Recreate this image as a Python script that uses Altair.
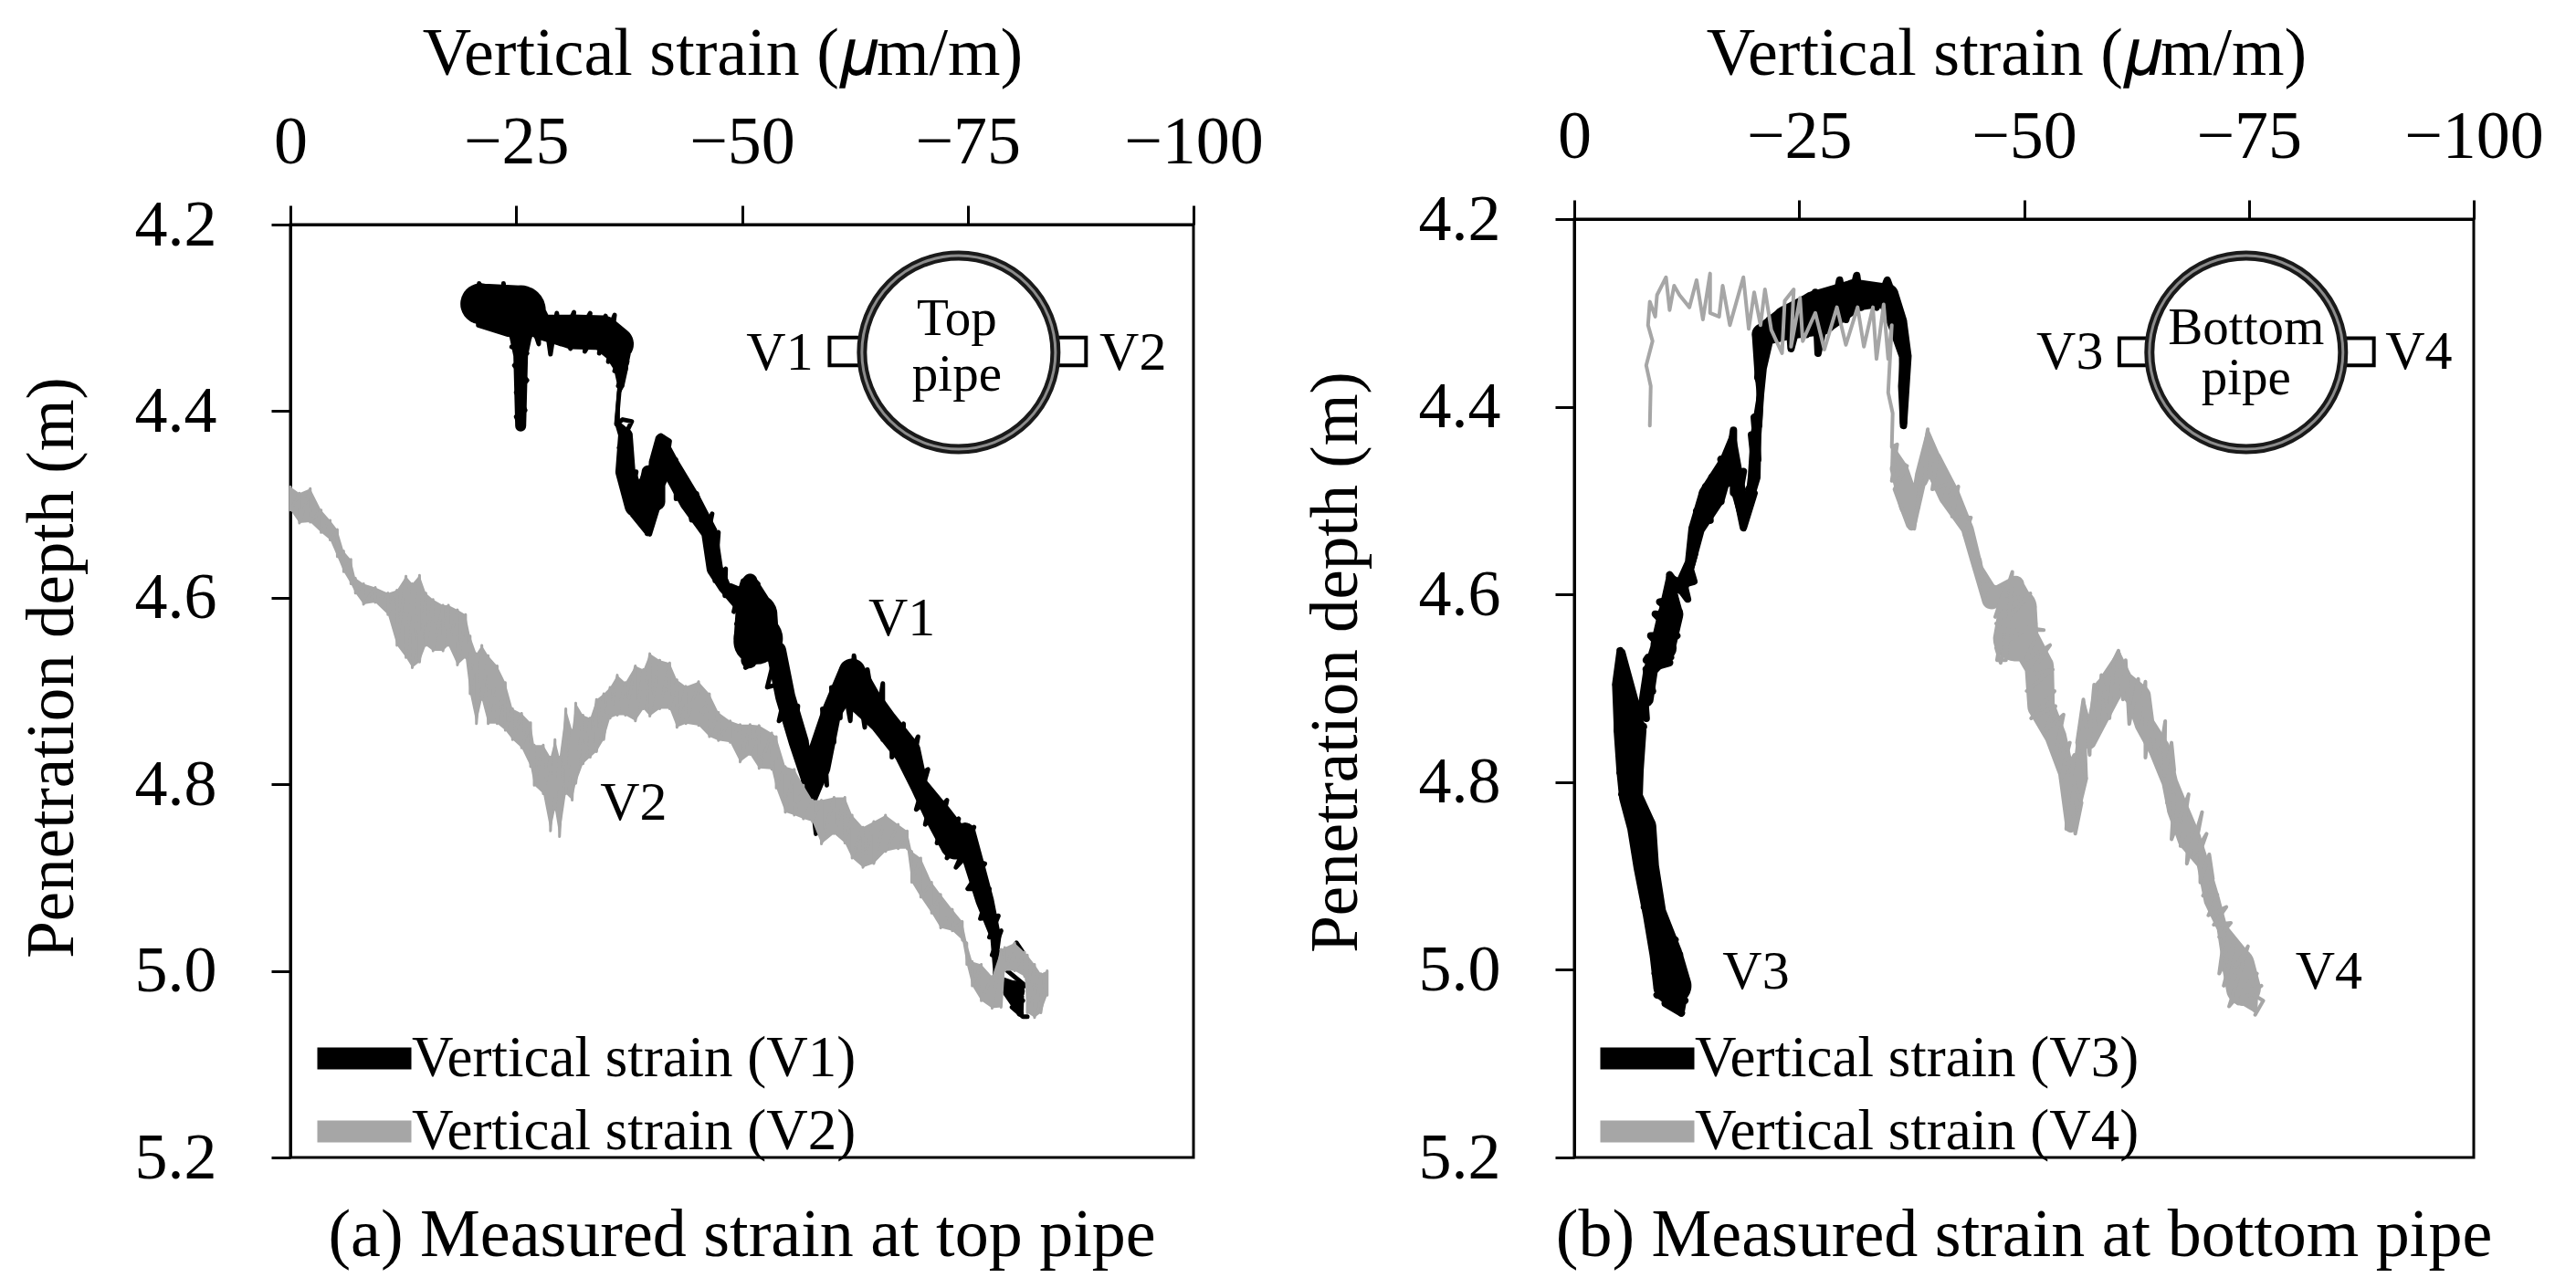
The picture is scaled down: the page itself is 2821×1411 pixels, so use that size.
import altair as alt
import pandas as pd

FONT = "Liberation Serif"
BLACK = "#000000"
GRAY = "#A6A6A6"

XTICKS = [0, -25, -50, -75, -100]
YTICKS = [4.2, 4.4, 4.6, 4.8, 5.0, 5.2]
X_TITLE = "Vertical strain (\U0001D707m/m)"
Y_TITLE = "Penetration depth (m)"

# ---- V1: strain magnitude and depth
V1_strain = [25.5,25.0,26.0,25.0,26.2,24.8,26.2,24.5,26.3,24.1,20.8,20.9,22.1,21.8,23.5,23.6,24.1,25.1,26.5,26.3,27.5,27.5,28.2,28.8,29.5,29.9,31.4,31.0,33.2,32.6,34.9,34.2,35.9,35.2,37.3,35.9,37.3,36.3,36.9,36.4,36.1,36.8,37.8,36.4,37.6,36.4,38.3,37.6,39.3,38.3,39.8,41.0,39.6,40.8,40.3,41.0,42.0,41.3,42.7,42.7,43.7,44.4,45.0,46.0,46.7,46.0,47.4,47.0,48.2,48.1,49.6,49.1,50.1,50.9,51.8,49.4,53.4,49.7,54.1,50.4,51.8,53.4,54.5,53.8,52.8,55.1,54.1,56.2,55.8,56.7,56.8,57.8,58.2,57.8,58.5,59.4,58.9,60.2,59.9,60.9,61.0,62.0,62.4,63.6,63.9,64.9,65.6,65.6,66.6,66.6,67.9,67.9,69.5,68.6,70.6,69.3,71.0,70.3,72.7,71.6,74.0,72.7,75.7,73.7,75.9,74.7,76.9,75.0,77.4,76.4,78.4,77.4,78.7,77.7,78.4,78.0,80.4,81.1,79.4,81.4,79.1,81.1,79.9,81.1,81.6]
V1_depth = [4.417,4.406,4.399,4.380,4.367,4.351,4.338,4.331,4.321,4.318,4.308,4.263,4.308,4.266,4.311,4.263,4.318,4.279,4.321,4.292,4.328,4.298,4.297,4.339,4.295,4.328,4.294,4.333,4.295,4.336,4.298,4.338,4.297,4.347,4.318,4.357,4.347,4.373,4.357,4.380,4.414,4.409,4.411,4.439,4.435,4.468,4.465,4.501,4.465,4.514,4.532,4.494,4.471,4.471,4.445,4.426,4.432,4.478,4.452,4.494,4.471,4.517,4.488,4.530,4.510,4.543,4.530,4.582,4.569,4.598,4.595,4.615,4.582,4.577,4.585,4.628,4.615,4.647,4.644,4.675,4.667,4.664,4.660,4.657,4.696,4.690,4.732,4.716,4.762,4.765,4.801,4.820,4.853,4.820,4.755,4.801,4.719,4.755,4.696,4.729,4.677,4.732,4.662,4.739,4.677,4.735,4.692,4.752,4.729,4.771,4.735,4.781,4.749,4.797,4.784,4.827,4.814,4.843,4.817,4.863,4.837,4.879,4.846,4.889,4.866,4.879,4.885,4.912,4.912,4.944,4.941,4.964,4.957,4.983,4.980,5.005,4.970,4.980,5.000,5.016,5.022,5.032,5.039,5.049,5.049]
# spine of the V1 band: centre strain, centre depth, band thickness
V1_spine_strain = [25.5,25.5,25.5,21.1,25.5,27.8,31.2,34.6,36.1,36.6,36.6,36.3,36.2,37.1,37.1,38.3,39.6,39.5,39.6,40.5,40.6,41.0,42.0,44.3,46.4,47.0,48.1,50.4,50.9,51.6,51.6,51.8,50.8,51.8,53.8,54.8,56.3,57.8,58.3,59.9,62.2,63.6,65.6,68.3,69.6,71.7,73.7,74.7,75.7,76.9,78.1,78.0,80.1,80.8]
V1_spine_depth = [4.416,4.341,4.308,4.285,4.292,4.310,4.315,4.316,4.328,4.354,4.372,4.382,4.413,4.426,4.465,4.501,4.530,4.497,4.465,4.497,4.455,4.430,4.458,4.497,4.530,4.569,4.589,4.605,4.582,4.618,4.647,4.644,4.667,4.644,4.657,4.706,4.755,4.817,4.781,4.723,4.680,4.710,4.732,4.765,4.801,4.833,4.863,4.853,4.885,4.925,4.964,5.005,5.022,5.045]
V1_spine_width = [12,16,30,45,55,28,38,38,38,16,8,3,6,16,22,26,8,26,14,20,18,12,22,24,18,18,14,28,16,46,50,54,18,54,22,22,22,10,30,22,30,36,30,30,20,30,36,24,22,20,12,3,24,8]

# ---- V2: strain magnitude with the upper and lower edge of the noisy band
V2_strain = [0,1.0,2.2,3.4,4.4,5.2,5.9,6.7,7.2,8.1,9.4,10.8,11.8,12.8,13.5,14.3,15.0,15.8,16.9,17.5,18.5,19.4,19.9,20.6,21.2,21.9,22.9,23.8,24.6,25.6,26.6,27.0,28.0,28.8,29.3,29.8,30.5,31.2,31.6,32.4,33.2,33.9,34.7,35.4,36.2,37.1,38.2,39.1,39.8,40.9,42.0,42.8,43.8,45.2,46.4,47.4,48.7,49.8,50.9,51.9,53.3,53.8,54.8,55.8,56.8,57.8,58.8,60.2,61.4,62.2,63.4,64.6,65.9,67.3,68.3,68.8,69.8,71.0,72.0,73.3,74.4,74.9,75.5,76.5,77.7,78.7,79.1,80.2,81.3,81.6,82.4,83.1,83.8]
V2_upper = [4.481,4.488,4.483,4.506,4.517,4.527,4.550,4.559,4.579,4.585,4.589,4.595,4.592,4.577,4.585,4.576,4.595,4.602,4.608,4.608,4.613,4.618,4.641,4.660,4.651,4.662,4.673,4.691,4.719,4.724,4.734,4.758,4.758,4.771,4.752,4.771,4.719,4.742,4.713,4.726,4.729,4.709,4.703,4.696,4.683,4.691,4.673,4.677,4.660,4.667,4.670,4.688,4.695,4.690,4.703,4.723,4.732,4.736,4.736,4.737,4.745,4.749,4.781,4.784,4.801,4.817,4.817,4.814,4.814,4.833,4.846,4.840,4.833,4.843,4.850,4.872,4.879,4.905,4.918,4.934,4.947,4.970,4.990,4.993,5.006,4.977,4.975,4.970,4.980,4.983,4.993,5.003,5.000]
V2_lower = [4.506,4.520,4.519,4.530,4.538,4.556,4.572,4.585,4.595,4.607,4.605,4.618,4.651,4.664,4.675,4.669,4.651,4.657,4.657,4.651,4.672,4.664,4.703,4.735,4.709,4.735,4.735,4.742,4.752,4.761,4.781,4.801,4.810,4.850,4.827,4.856,4.810,4.817,4.799,4.778,4.771,4.765,4.752,4.729,4.726,4.726,4.732,4.719,4.727,4.719,4.719,4.739,4.735,4.737,4.749,4.753,4.755,4.776,4.768,4.783,4.784,4.804,4.830,4.833,4.837,4.840,4.864,4.853,4.863,4.879,4.889,4.885,4.872,4.869,4.869,4.905,4.921,4.938,4.954,4.957,4.967,4.993,5.016,5.032,5.040,5.039,5.000,5.000,5.006,5.045,5.050,5.045,5.026]

# ---- V3
V3_strain = [36.6,36.4,36.6,36.1,34.9,35.9,34.8,33.6,33.2,31.9,31.4,30.2,29.5,28.5,28.5,27.1,26.8,25.8,25.4,24.1,23.8,22.7,21.7,21.2,20.9,20.4,20.7,20.5,20.0,20.4,19.7,20.2,19.4,20.0,18.8,18.2,18.8,17.7,17.7,17.2,16.3,17.0,15.3,16.3,14.6,15.1,13.6,13.9,13.1,13.4,12.9,13.3,12.2,12.6,10.6,11.2,9.5,11.6,9.0,11.4,8.5,10.7,8.0,8.2,10.6,8.0,8.7,7.8,8.0,7.0,5.3,5.8,4.8,4.8,4.8,7.7,5.1,7.2,5.1,7.2,5.3,7.0,6.2,8.2,6.5,8.5,7.2,8.9,7.7,9.2,7.8,9.7,8.5,10.9,11.2,8.9,11.7,9.0,12.4,9.2,12.3,10.1,11.9]
V3_depth = [4.417,4.378,4.346,4.313,4.287,4.294,4.265,4.294,4.271,4.294,4.260,4.307,4.265,4.313,4.278,4.343,4.278,4.323,4.291,4.338,4.297,4.326,4.307,4.349,4.313,4.369,4.375,4.420,4.411,4.456,4.430,4.475,4.488,4.492,4.529,4.501,4.469,4.492,4.425,4.459,4.456,4.482,4.475,4.501,4.485,4.521,4.511,4.534,4.534,4.556,4.573,4.586,4.589,4.605,4.579,4.605,4.608,4.624,4.621,4.644,4.644,4.667,4.670,4.667,4.673,4.680,4.703,4.706,4.732,4.722,4.662,4.706,4.690,4.722,4.745,4.741,4.767,4.767,4.790,4.787,4.813,4.813,4.832,4.839,4.855,4.858,4.881,4.887,4.907,4.913,4.933,4.939,4.959,4.972,4.968,4.978,4.984,5.004,5.010,5.027,5.033,5.036,5.046]
V3_spine_strain = [36.6,36.8,35.9,34.8,31.2,27.1,23.8,21.0,20.7,20.7,20.2,20.0,18.8,18.3,17.7,17.0,15.3,13.6,12.9,11.9,10.6,10.7,9.9,9.9,8.5,8.0,7.0,5.1,5.1,6.2,6.2,6.3,7.5,8.0,8.9,10.2,10.9,11.9]
V3_spine_depth = [4.420,4.346,4.310,4.281,4.281,4.300,4.310,4.323,4.359,4.388,4.430,4.475,4.530,4.492,4.424,4.459,4.495,4.530,4.566,4.592,4.582,4.621,4.654,4.657,4.680,4.712,4.725,4.660,4.696,4.745,4.787,4.816,4.848,4.890,4.939,4.984,5.017,5.046]
V3_spine_width = [8,14,22,25,35,50,38,25,14,8,12,14,4,16,3,18,30,18,12,16,8,28,28,29,16,16,6,8,18,36,30,26,32,28,26,36,42,8]

# ---- V4
V4_strain = [8.4,8.5,8.0,8.7,8.2,8.4,9.0,9.2,10.2,10.6,11.1,11.7,12.8,13.6,14.3,15.1,15.1,16.1,16.5,17.3,18.8,19.4,20.0,20.7,21.2,21.9,23.1,23.4,24.4,24.1,25.1,25.4,26.8,27.8,29.2,30.2,31.5,32.2,33.2,33.6,34.4,34.9,35.3,34.9,35.4,35.3,35.9,35.3,37.0,35.6,37.1,37.8,38.6,39.3,39.0,40.3,39.8,41.7,41.0,42.7,42.0,44.1,43.4,44.4,45.1,45.6,45.8,47.8,46.8,48.1,47.0,48.0,48.7,47.6,50.7,47.1,52.2,46.9,51.3,46.9,47.4,48.1,51.2,50.2,52.9,50.5,53.2,50.3,53.4,50.8,53.5,52.4,54.4,53.5,55.1,54.1,55.6,54.9,54.7,55.4,55.7,56.4,55.4,56.9,55.9,56.6,57.3,57.4,57.8,58.3,58.6,59.5,60.0,60.5,61.0,61.3,61.7,62.7,62.7,63.5,63.5,64.0,64.9,65.7,65.6,66.4,66.7,65.9,66.7,66.4,68.3,67.4,68.4,68.1,69.8,68.9,70.3,69.6,69.6,70.6,71.0,69.9,71.5,70.5,72.5,71.1,73.0,71.7,72.3,71.7,73.5,72.2,74.9,72.8,75.9,73.8,76.4,74.9,76.6,75.7]
V4_depth = [4.420,4.378,4.356,4.330,4.313,4.288,4.304,4.281,4.262,4.297,4.271,4.281,4.294,4.265,4.307,4.258,4.300,4.304,4.271,4.313,4.262,4.317,4.278,4.313,4.275,4.318,4.343,4.287,4.275,4.336,4.284,4.330,4.300,4.339,4.294,4.334,4.294,4.336,4.294,4.349,4.291,4.349,4.313,4.385,4.407,4.443,4.440,4.479,4.463,4.488,4.527,4.530,4.469,4.424,4.482,4.456,4.488,4.482,4.501,4.485,4.517,4.518,4.537,4.556,4.563,4.605,4.589,4.595,4.624,4.605,4.670,4.670,4.576,4.609,4.599,4.638,4.638,4.631,4.631,4.657,4.673,4.647,4.647,4.670,4.654,4.686,4.680,4.703,4.703,4.732,4.719,4.745,4.728,4.771,4.758,4.796,4.771,4.822,4.850,4.822,4.855,4.822,4.796,4.796,4.758,4.712,4.771,4.738,4.696,4.738,4.686,4.732,4.670,4.660,4.712,4.670,4.738,4.690,4.738,4.693,4.774,4.732,4.784,4.735,4.793,4.758,4.787,4.822,4.813,4.861,4.813,4.868,4.835,4.887,4.832,4.877,4.855,4.874,4.907,4.877,4.903,4.921,4.920,4.942,4.933,4.952,4.950,4.965,4.962,5.004,4.968,5.017,4.975,5.039,5.004,5.036,5.017,5.023,5.033,5.048]
V4_spine_strain = [35.4,36.1,37.3,37.5,38.6,39.3,39.7,41.7,43.7,44.9,46.4,49.1,49.3,49.1,47.5,49.8,51.7,51.9,53.5,54.7,55.2,56.2,56.6,57.3,59.3,60.5,61.0,62.7,63.4,65.0,66.2,67.1,68.4,69.9,70.9,72.0,73.8,74.4,75.7]
V4_spine_depth = [4.443,4.466,4.505,4.527,4.472,4.425,4.456,4.495,4.530,4.573,4.605,4.589,4.614,4.647,4.660,4.644,4.677,4.719,4.751,4.790,4.848,4.796,4.715,4.758,4.703,4.664,4.693,4.709,4.738,4.764,4.800,4.829,4.861,4.887,4.926,4.955,4.994,5.020,5.043]
V4_spine_width = [4,20,24,10,14,3,22,24,14,12,22,18,42,50,12,34,32,30,24,18,12,18,4,14,32,6,24,28,22,24,18,24,26,14,18,12,36,38,6]

# ---- annotations: text, strain magnitude, depth of the baseline
A_LABELS = [("V1", 54.2, 4.356), ("V2", 93.3, 4.356), ("V1", 67.7, 4.640), ("V2", 38.0, 4.838)]
B_LABELS = [("V3", 55.1, 4.360), ("V4", 93.9, 4.360), ("V3", 20.2, 5.020), ("V4", 83.9, 5.020)]
A_PIPE = [("Top", 73.8, 4.318), ("pipe", 73.8, 4.378)]
B_PIPE = [("Bottom", 74.7, 4.333), ("pipe", 74.7, 4.387)]
A_GAUGES = [(59.7, 63.1, 4.321, 4.351), (84.7, 88.1, 4.321, 4.351)]
B_GAUGES = [(60.6, 64.1, 4.327, 4.356), (85.7, 88.9, 4.327, 4.356)]
A_CENTRE = (74.0, 4.337)
B_CENTRE = (74.7, 4.342)


def trace(strain, depth, name):
    return pd.DataFrame({"i": range(len(strain)), "strain": [-v for v in strain], "depth": depth, "series": name})


def spine(strain, depth, width):
    return pd.DataFrame({"i": range(len(strain)), "strain": [-v for v in strain], "depth": depth, "w": width})


def zigzag(strain, upper, lower, name):
    s, d = [], []
    for a, u, l in zip(strain, upper, lower):
        s += [a, a]
        d += [u, l]
    return trace(s, d, name)


def panel(black, gray, names, labels, pipe, gauges, centre, caption, w, h, bw, gw, legend_x, xtitle_x, xtitle_y,
          black_spine, gray_spine=None, band=None):
    x = alt.X("strain:Q", scale=alt.Scale(domain=[0, -100], nice=False, zero=False),
              axis=alt.Axis(orient="top", values=XTICKS, grid=False, title=X_TITLE, titleFont=FONT, titleFontSize=74,
                            titleFontWeight="normal", titleColor=BLACK, titleX=xtitle_x, titleY=xtitle_y,
                            labelFont=FONT, labelFontSize=74, labelColor=BLACK, labelPadding=31, labelFlush=False,
                            tickSize=21, tickWidth=3, tickColor=BLACK, domainColor=BLACK, domainWidth=3, labelBaseline="bottom"))
    y = alt.Y("depth:Q", scale=alt.Scale(domain=[4.2, 5.2], nice=False, zero=False, reverse=True),
              axis=alt.Axis(values=YTICKS, format=".1f", grid=False, title=Y_TITLE, titleFont=FONT, titleFontSize=73,
                            titleFontWeight="normal", titleColor=BLACK, titleX=-224, titleY=485, titleAlign="center",
                            labelFont=FONT, labelFontSize=72, labelColor=BLACK, labelPadding=60, labelFlush=False,
                            tickSize=21, tickWidth=3, tickColor=BLACK, domainColor=BLACK, domainWidth=3))
    color = alt.Color("series:N",
                      scale=alt.Scale(domain=names, range=[BLACK, GRAY]),
                      legend=alt.Legend(title=None, orient="none", legendX=legend_x, legendY=1113,
                                        symbolType="M0,0H103", symbolSize=4, symbolStrokeWidth=24, symbolOpacity=1,
                                        labelFont=FONT, labelFontSize=63, labelColor=BLACK, labelOffset=72,
                                        labelLimit=0, rowPadding=-19, padding=0))
    size = alt.Size("w:Q", scale=None, legend=None)
    layers = [
        alt.Chart(black_spine).mark_trail(color=BLACK).encode(x=x, y=y, size=size, order="i:Q"),
        alt.Chart(black).mark_line(strokeWidth=bw, strokeJoin="round", strokeCap="round", clip=False)
        .encode(x=x, y=y, color=color, order="i:Q"),
    ]
    if band is not None:
        layers.append(alt.Chart(band).mark_area(color=GRAY, opacity=1).encode(x=x, y=y, y2="lower:Q"))
    if gray_spine is not None:
        layers.append(alt.Chart(gray_spine).mark_trail(color=GRAY).encode(x=x, y=y, size=size, order="i:Q"))
    layers.append(
        alt.Chart(gray).mark_line(strokeWidth=gw, strokeJoin="round", strokeCap="round")
        .encode(x=x, y=y, color=color, order="i:Q"))

    gdf = pd.DataFrame(gauges, columns=["s1", "s2", "d1", "d2"])
    gdf["strain"] = -gdf["s1"]
    gdf["s2"] = -gdf["s2"]
    gdf["depth"] = gdf["d1"]
    layers.append(alt.Chart(gdf).mark_rect(fill="white", stroke=BLACK, strokeWidth=4)
                  .encode(x=x, x2="s2:Q", y=y, y2="d2:Q"))

    cdf = pd.DataFrame({"strain": [-centre[0]], "depth": [centre[1]]})
    layers.append(alt.Chart(cdf).mark_point(shape="circle", filled=False, fill="white", fillOpacity=1, opacity=1,
                                            stroke="#1a1a1a", strokeWidth=11, size=212 ** 2).encode(x=x, y=y))
    layers.append(alt.Chart(cdf).mark_point(shape="circle", filled=False, opacity=1,
                                            stroke="#8c8c8c", strokeWidth=3, size=212 ** 2).encode(x=x, y=y))

    ldf = pd.DataFrame(labels, columns=["t", "s", "depth"])
    ldf["strain"] = -ldf["s"]
    layers.append(alt.Chart(ldf).mark_text(font=FONT, fontSize=60, color=BLACK, baseline="alphabetic", align="center")
                  .encode(x=x, y=y, text="t:N"))
    pdf = pd.DataFrame(pipe, columns=["t", "s", "depth"])
    pdf["strain"] = -pdf["s"]
    layers.append(alt.Chart(pdf).mark_text(font=FONT, fontSize=57, color=BLACK, baseline="alphabetic", align="center")
                  .encode(x=x, y=y, text="t:N"))

    return alt.layer(*layers).properties(
        width=w, height=h,
        title=alt.TitleParams(caption, orient="bottom", font=FONT, fontSize=74, fontWeight="normal", color=BLACK,
                              anchor="middle", offset=14, baseline="top"),
    )


def spacer():
    return (
        alt.Chart(pd.DataFrame({"v": [0]}))
        .mark_point(opacity=0)
        .encode(x=alt.value(0), y=alt.value(0))
        .properties(width=1, height=1, view=alt.ViewConfig(stroke="transparent"))
    )


v1 = trace(V1_strain, V1_depth, "Vertical strain (V1)")
v2 = zigzag(V2_strain, V2_upper, V2_lower, "Vertical strain (V2)")
band = pd.DataFrame({"strain": [-v for v in V2_strain], "depth": V2_upper, "lower": V2_lower})
v3 = trace(V3_strain, V3_depth, "Vertical strain (V3)")
v4 = trace(V4_strain, V4_depth, "Vertical strain (V4)")
s1 = spine(V1_spine_strain, V1_spine_depth, V1_spine_width)
s3 = spine(V3_spine_strain, V3_spine_depth, V3_spine_width)
s4 = spine(V4_spine_strain, V4_spine_depth, V4_spine_width)

a = panel(v1, v2, ["Vertical strain (V1)", "Vertical strain (V2)"], A_LABELS, A_PIPE, A_GAUGES, A_CENTRE,
          "(a) Measured strain at top pipe", 989, 1022, 5, 3, -2, 473, -149, s1, band=band)
b = panel(v3, v4, ["Vertical strain (V3)", "Vertical strain (V4)"], B_LABELS, B_PIPE, B_GAUGES, B_CENTRE,
          "(b) Measured strain at bottom pipe", 985, 1028, 8, 4, -3, 473, -143, s3, gray_spine=s4)

chart = (
    alt.hconcat(alt.vconcat(spacer(), a, spacing=0), alt.vconcat(spacer(), b, spacing=0), spacing=40)
    .resolve_scale(color="independent", x="independent", y="independent")
    .properties(padding={"left": 11, "top": 2, "right": 0, "bottom": 0}, background="white")
    .configure_view(stroke=BLACK, strokeWidth=3)
)

chart.save("out.html", embed_options={"renderer": "svg", "actions": False})
